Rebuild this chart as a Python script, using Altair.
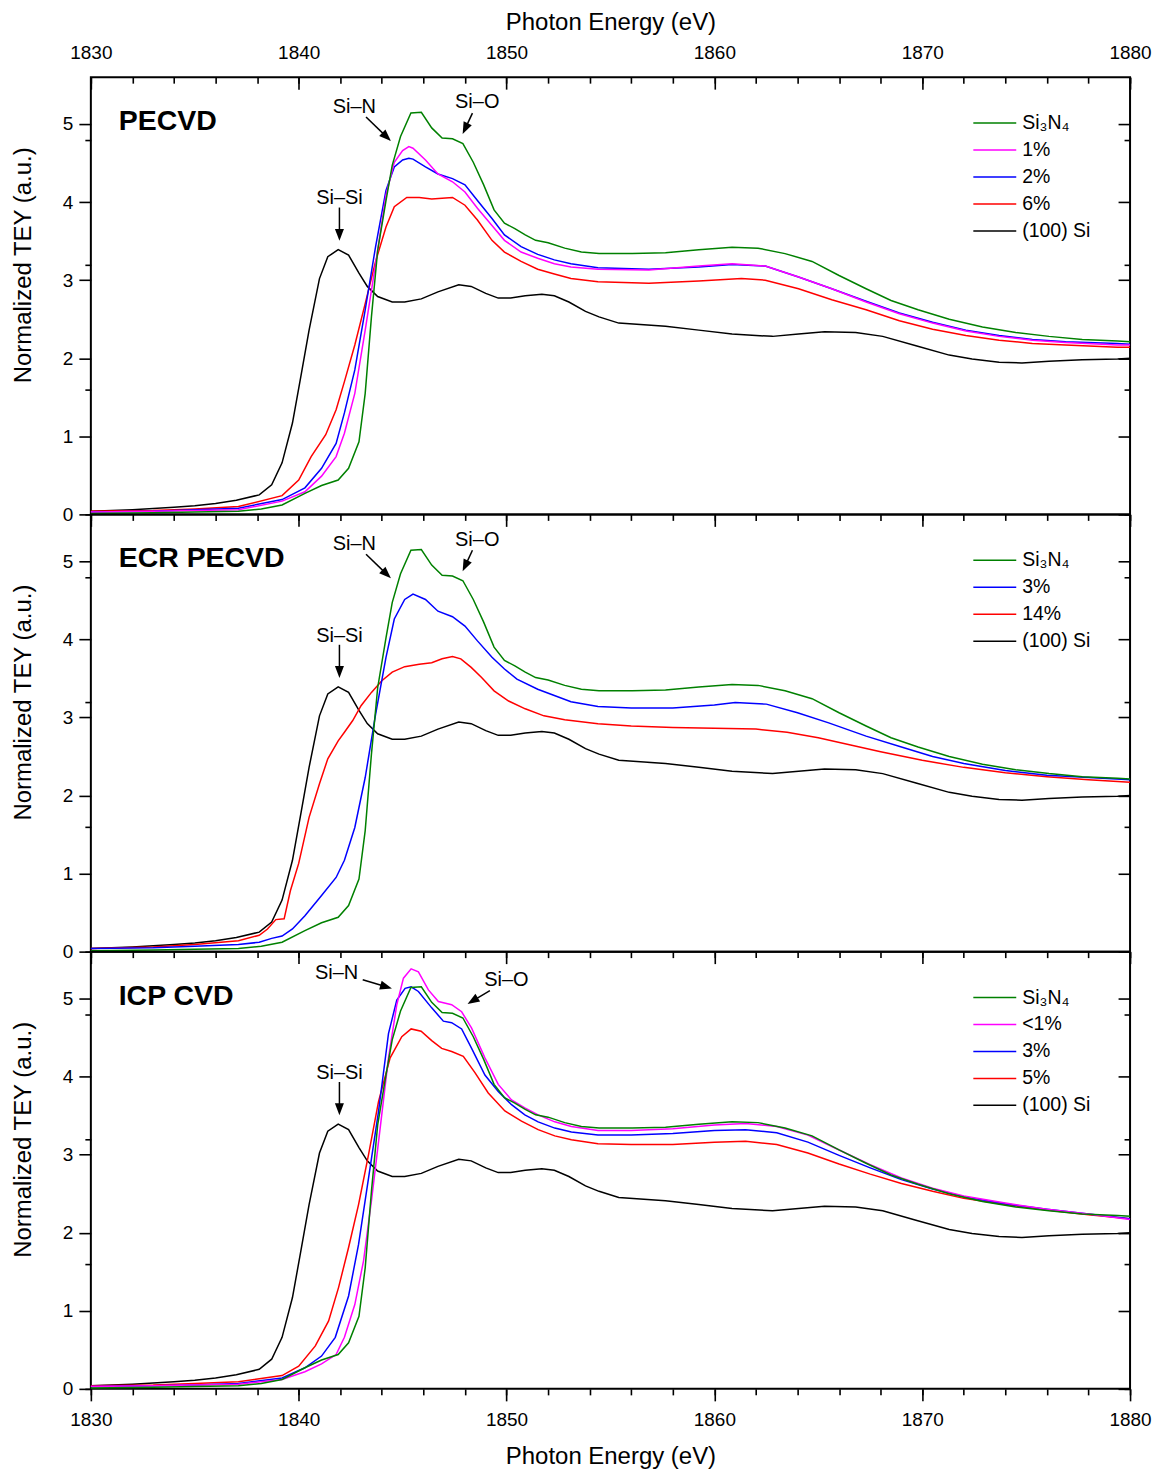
import altair as alt
import pandas as pd

FONT = "Liberation Sans, Arial, sans-serif"

# ---------------- data ----------------
# (100) Si reference, black (identical in all three panels)
SI_E = [1830, 1832, 1834, 1835, 1836, 1837, 1838.1, 1838.7, 1839.2, 1839.7, 1840.1, 1840.5, 1841.0, 1841.4, 1841.9,
        1842.4, 1842.9, 1843.3, 1843.8, 1844.5, 1845.1, 1845.9, 1846.7, 1847.7, 1848.3, 1849.0, 1849.6, 1850.2, 1850.9,
        1851.7, 1852.3, 1853.0, 1853.8, 1854.45, 1855.4, 1857.65, 1859.25, 1860.85, 1862.8, 1864.05, 1865.3, 1866.8,
        1868.1, 1869.7, 1871.3, 1872.4, 1873.7, 1874.8, 1876.1, 1877.7, 1879.4, 1880]
SI_V = [0.04, 0.06, 0.09, 0.11, 0.14, 0.18, 0.25, 0.38, 0.66, 1.17, 1.76, 2.36, 3.02, 3.30, 3.39,
        3.32, 3.09, 2.92, 2.79, 2.72, 2.72, 2.76, 2.85, 2.94, 2.92, 2.83, 2.77, 2.77, 2.80,
        2.82, 2.80, 2.72, 2.60, 2.53, 2.45, 2.41, 2.36, 2.31, 2.28, 2.31, 2.34, 2.33,
        2.28, 2.16, 2.04, 1.99, 1.95, 1.94, 1.96, 1.98, 1.99, 2.00]

# Si3N4 reference, green (identical in all three panels)
SIN_E = [1830, 1833, 1835, 1837.1, 1838.2, 1839.2, 1840.3, 1841.1, 1841.9, 1842.4, 1842.9, 1843.2, 1843.5, 1843.8,
         1844.2, 1844.5, 1844.9, 1845.4, 1845.9, 1846.4, 1846.9, 1847.4, 1847.9, 1848.4, 1848.9, 1849.4, 1849.9,
         1850.4, 1850.9, 1851.4, 1852.0, 1852.8, 1853.6, 1854.45, 1856.05, 1857.65, 1859.25, 1860.85, 1862.1, 1863.4,
         1864.7, 1866.0, 1867.3, 1868.5, 1869.8, 1871.3, 1872.9, 1874.5, 1876.1, 1877.7, 1879.4, 1880]
SIN_V = [0.01, 0.02, 0.03, 0.04, 0.07, 0.12, 0.27, 0.37, 0.44, 0.59, 0.93, 1.55, 2.53, 3.38,
         4.02, 4.47, 4.84, 5.14, 5.15, 4.95, 4.82, 4.81, 4.75, 4.51, 4.22, 3.90, 3.73,
         3.66, 3.58, 3.51, 3.48, 3.41, 3.36, 3.34, 3.34, 3.35, 3.39, 3.42, 3.41, 3.34,
         3.24, 3.06, 2.89, 2.74, 2.62, 2.50, 2.40, 2.33, 2.28, 2.24, 2.22, 2.21]

# PECVD films
PE_E = [1830, 1833, 1835, 1837.1, 1839.2, 1840.3, 1841.1, 1841.8, 1842.2, 1842.7, 1843.2, 1843.7, 1844.2, 1844.6,
        1845.0, 1845.3, 1845.5, 1846.1, 1846.7, 1847.4, 1848.0, 1848.6, 1849.3, 1849.9, 1850.7, 1851.5, 1852.3,
        1853.1, 1854.4, 1856.85, 1859.25, 1860.85, 1862.45, 1864.05, 1865.65, 1867.3, 1868.9, 1870.5, 1872.1,
        1873.7, 1875.3, 1876.9, 1879.4, 1880]
PE1_V = [0.03, 0.04, 0.05, 0.06, 0.17, 0.29, 0.49, 0.74, 1.04, 1.55, 2.36, 3.21, 4.09, 4.51,
         4.66, 4.71, 4.69, 4.54, 4.36, 4.26, 4.13, 3.92, 3.70, 3.51, 3.36, 3.28, 3.21,
         3.17, 3.14, 3.13, 3.18, 3.21, 3.18, 3.04, 2.89, 2.72, 2.57, 2.45, 2.35,
         2.28, 2.23, 2.20, 2.17, 2.17]
PE2_V = [0.03, 0.04, 0.06, 0.08, 0.19, 0.34, 0.59, 0.91, 1.30, 1.85, 2.62, 3.43, 4.15, 4.45,
         4.54, 4.56, 4.55, 4.45, 4.36, 4.30, 4.22, 4.02, 3.79, 3.58, 3.43, 3.33, 3.26,
         3.21, 3.16, 3.14, 3.17, 3.20, 3.18, 3.04, 2.89, 2.73, 2.58, 2.46, 2.36,
         2.29, 2.24, 2.21, 2.19, 2.18]
PE6_E = [1830, 1833, 1835, 1837.1, 1839.2, 1840.0, 1840.6, 1841.3, 1841.8, 1842.2, 1842.7, 1843.2, 1843.7, 1844.2,
         1844.6, 1845.2, 1845.8, 1846.4, 1847.4, 1848.0, 1848.6, 1849.3, 1849.9, 1850.7, 1851.5, 1852.3, 1853.1,
         1854.4, 1856.85, 1859.25, 1861.3, 1862.45, 1864.05, 1865.65, 1867.3, 1868.9, 1870.5, 1872.1, 1873.7,
         1875.3, 1876.9, 1879.4, 1880]
PE6_V = [0.04, 0.05, 0.07, 0.10, 0.24, 0.44, 0.74, 1.02, 1.34, 1.70, 2.17, 2.70, 3.24, 3.68,
         3.94, 4.06, 4.06, 4.04, 4.06, 3.96, 3.77, 3.51, 3.36, 3.24, 3.14, 3.08, 3.02,
         2.98, 2.96, 2.99, 3.02, 3.00, 2.89, 2.75, 2.62, 2.48, 2.37, 2.29, 2.23,
         2.19, 2.17, 2.14, 2.14]

# ECR PECVD films
ECR3_E = [1830, 1833, 1835, 1837.1, 1838.1, 1838.7, 1839.2, 1839.7, 1840.3, 1841.1, 1841.8, 1842.2, 1842.7, 1843.2,
          1843.7, 1844.2, 1844.6, 1845.1, 1845.5, 1846.1, 1846.7, 1847.4, 1848.0, 1848.6, 1849.3, 1849.9, 1850.5,
          1851.5, 1852.3, 1853.1, 1854.4, 1856, 1858, 1860, 1861, 1862.5, 1864, 1865.5, 1867.3, 1869, 1870.5, 1872,
          1874, 1876, 1878, 1880]
ECR3_V = [0.04, 0.05, 0.07, 0.09, 0.12, 0.17, 0.20, 0.29, 0.46, 0.72, 0.95, 1.17, 1.59, 2.23,
          3.04, 3.77, 4.26, 4.51, 4.58, 4.51, 4.36, 4.29, 4.17, 3.98, 3.77, 3.62, 3.49,
          3.36, 3.28, 3.20, 3.14, 3.12, 3.12, 3.16, 3.19, 3.17, 3.06, 2.93, 2.76, 2.62, 2.50, 2.41,
          2.32, 2.26, 2.23, 2.20]
ECR14_E = [1830, 1833, 1835, 1837.1, 1838.1, 1838.5, 1838.9, 1839.3, 1839.6, 1840.0, 1840.5, 1841.0, 1841.4,
           1841.9, 1842.2, 1842.6, 1843.0, 1843.5, 1844.0, 1844.5, 1845.1, 1845.8, 1846.4, 1846.9, 1847.4, 1847.8,
           1848.3, 1848.8, 1849.4, 1850.1, 1850.9, 1851.8, 1852.8, 1854.4, 1856, 1858, 1860, 1862, 1863.5, 1865,
           1866.5, 1868, 1870, 1872, 1874, 1876, 1878, 1880]
ECR14_V = [0.04, 0.06, 0.09, 0.14, 0.21, 0.29, 0.41, 0.42, 0.78, 1.13, 1.72, 2.15, 2.47,
           2.70, 2.81, 2.96, 3.15, 3.32, 3.47, 3.58, 3.65, 3.68, 3.70, 3.75, 3.78, 3.75,
           3.64, 3.51, 3.34, 3.21, 3.11, 3.02, 2.97, 2.92, 2.89, 2.87, 2.86, 2.85, 2.81, 2.74,
           2.65, 2.56, 2.45, 2.36, 2.29, 2.24, 2.20, 2.17]

# ICP CVD films
ICP1_E = [1830, 1833, 1835, 1837.1, 1839.2, 1840.3, 1841.1, 1841.8, 1842.2, 1842.7, 1843.12, 1843.52, 1843.92,
          1844.32, 1844.72, 1845.04, 1845.41, 1845.76, 1846.24, 1846.72, 1847.36, 1847.84, 1848.32, 1848.96, 1849.6,
          1850.24, 1850.88, 1851.52, 1852.32, 1853.12, 1854.4, 1856, 1858, 1860, 1861.5, 1863, 1864.5, 1866, 1867.5,
          1869, 1870.5, 1872, 1874, 1876, 1878, 1880]
ICP1_V = [0.03, 0.04, 0.05, 0.06, 0.12, 0.22, 0.32, 0.44, 0.66, 1.08, 1.64, 2.45, 3.34,
          4.24, 4.92, 5.26, 5.38, 5.34, 5.11, 4.96, 4.92, 4.83, 4.62, 4.24, 3.90,
          3.70, 3.60, 3.51, 3.42, 3.36, 3.31, 3.31, 3.33, 3.38, 3.40, 3.36, 3.25, 3.06, 2.87,
          2.70, 2.57, 2.47, 2.38, 2.30, 2.24, 2.17]
ICP3_E = [1830, 1833, 1835, 1837.1, 1839.2, 1840.3, 1841.1, 1841.76, 1842.4, 1842.88, 1843.36, 1843.84, 1844.32,
          1844.72, 1845.12, 1845.41, 1845.76, 1846.4, 1846.96, 1847.36, 1847.84, 1848.32, 1848.96, 1849.6, 1850.24,
          1850.88, 1851.52, 1852.32, 1853.12, 1854.4, 1856, 1858, 1860, 1861.5, 1863, 1864.5, 1866, 1867.5, 1869,
          1870.5, 1872, 1874, 1876, 1878, 1880]
ICP3_V = [0.03, 0.04, 0.05, 0.07, 0.14, 0.27, 0.42, 0.66, 1.19, 1.85, 2.70, 3.55, 4.55,
          4.98, 5.13, 5.15, 5.09, 4.88, 4.71, 4.69, 4.61, 4.36, 4.02, 3.81, 3.64,
          3.51, 3.42, 3.34, 3.29, 3.25, 3.25, 3.27, 3.31, 3.32, 3.28, 3.16, 2.99, 2.83, 2.68,
          2.56, 2.46, 2.37, 2.30, 2.24, 2.18]
ICP5_E = [1830, 1833, 1835, 1837.1, 1839.2, 1840.0, 1840.8, 1841.44, 1841.92, 1842.4, 1842.88, 1843.36, 1843.84,
          1844.4, 1844.96, 1845.41, 1845.89, 1846.4, 1846.88, 1847.36, 1847.92, 1848.48, 1849.12, 1849.92, 1850.72,
          1851.52, 1852.32, 1853.12, 1854.4, 1856, 1858, 1860, 1861.5, 1863, 1864.5, 1866, 1867.5, 1869, 1870.5,
          1872, 1874, 1876, 1878, 1880]
ICP5_V = [0.04, 0.05, 0.07, 0.09, 0.17, 0.29, 0.55, 0.87, 1.30, 1.81, 2.36, 3.00, 3.68,
          4.24, 4.51, 4.61, 4.58, 4.46, 4.36, 4.32, 4.26, 4.05, 3.79, 3.56, 3.43,
          3.32, 3.24, 3.19, 3.14, 3.13, 3.13, 3.16, 3.17, 3.13, 3.02, 2.88, 2.75, 2.63, 2.53,
          2.44, 2.36, 2.29, 2.23, 2.18]

# legends / colours
SIN_NAME = "Si\u2083N\u2084"
SI_NAME = "(100) Si"
GREEN, MAGENTA, BLUE, RED, BLACK = "#008000", "#FF00FF", "#0000FF", "#FF0000", "#000000"

# annotations (label, text anchor, arrow start, arrowhead centre, arrowhead angle)
ANN_LABELS = ["Si\u2013N", "Si\u2013O", "Si\u2013Si"]
ANN_TOP_E = [1842.68, 1848.59, 1841.96]
ANN_TOP_V = [5.14, 5.20, 3.97]
ARR_TOP_E0 = [1843.24, 1848.36, 1841.96]
ARR_TOP_V0 = [5.09, 5.14, 3.93]
ARR_TOP_E1 = [1844.23, 1848.01, 1841.96]
ARR_TOP_V1 = [4.835, 4.94, 3.58]
ARR_TOP_ANG = [134, 205, 180]

ANN_BOT_E = [1841.82, 1849.99, 1841.96]
ANN_BOT_V = [5.25, 5.16, 3.97]
ARR_BOT_E0 = [1843.08, 1849.2, 1841.96]
ARR_BOT_V0 = [5.24, 5.10, 3.93]
ARR_BOT_E1 = [1844.21, 1848.37, 1841.96]
ARR_BOT_V1 = [5.15, 4.97, 3.58]
ARR_BOT_ANG = [106, 238.5, 180]

PANEL_NAMES = ["PECVD", "ECR PECVD", "ICP CVD"]
PANEL_NAME_E = 1831.34
PANEL_NAME_V = 4.92

# axes ticks
X_DOMAIN = [1830, 1880]
Y_DOMAIN = [0, 5.6]
X_MAJOR = [1830, 1840, 1850, 1860, 1870, 1880]
X_MINOR = [1830, 1832, 1834, 1836, 1838, 1840, 1842, 1844, 1846, 1848, 1850, 1852, 1854, 1856, 1858,
           1860, 1862, 1864, 1866, 1868, 1870, 1872, 1874, 1876, 1878, 1880]
Y_MAJOR = [0, 1, 2, 3, 4, 5]
Y_MINOR = [0, 0.2, 0.4, 0.6, 0.8, 1, 1.2, 1.4, 1.6, 1.8, 2, 2.2, 2.4, 2.6, 2.8, 3, 3.2, 3.4, 3.6, 3.8,
           4, 4.2, 4.4, 4.6, 4.8, 5, 5.2, 5.4]

ARROW_HEAD = "M0,-1L0.75,1L-0.75,1Z"

W, H = 1041, 438
TICK_W = 1.6
LINE_W = 1.5

XS = alt.Scale(domain=X_DOMAIN, nice=False, zero=False)
YS = alt.Scale(domain=Y_DOMAIN, nice=False, zero=False)


def series_df(series):
    rows = []
    for name, es, vs in series:
        assert len(es) == len(vs), name
        for e, v in zip(es, vs):
            rows.append({"sample": name, "E": e, "I": v})
    return pd.DataFrame(rows)


def x_axis(orient, values, size, inward, labels=False, title=None):
    kw = dict(orient=orient, values=values, tickSize=size, tickWidth=TICK_W, tickColor="black",
              domain=False, grid=False, labels=labels, format="d", labelFlush=False, labelOverlap=False)
    if inward:
        kw["offset"] = -size
    if labels:
        kw.update(labelFont=FONT, labelFontSize=19, labelColor="black",
                  labelPadding=15 if orient == "top" else 10)
    if title:
        kw.update(title=title, titleFont=FONT, titleFontSize=24, titleFontWeight="normal",
                  titleColor="black", titlePadding=9 if orient == "top" else 15)
    else:
        kw["title"] = None
    return alt.Axis(**kw)


def y_axis(orient, values, size, inward, labels=False, title=None):
    kw = dict(orient=orient, values=values, tickSize=size, tickWidth=TICK_W, tickColor="black",
              domain=False, grid=False, labels=labels, format="d")
    if inward:
        kw["offset"] = -size
    if labels:
        kw.update(labelFont=FONT, labelFontSize=19, labelColor="black", labelPadding=6)
    if title:
        kw.update(title=title, titleFont=FONT, titleFontSize=24, titleFontWeight="normal",
                  titleColor="black", titlePadding=27, titleY=188)
    else:
        kw["title"] = None
    return alt.Axis(**kw)


def panel(idx, series, names, colors, ann, is_top, is_bottom):
    df = series_df(series)
    base = alt.Chart(df)

    legend = alt.Legend(title=None, orient="none", legendX=883, legendY=38, direction="vertical",
                        symbolType="stroke", symbolSize=1849, symbolStrokeWidth=LINE_W, clipHeight=16,
                        rowPadding=7, labelFont=FONT, labelFontSize=19.5, labelColor="black",
                        labelOffset=5, padding=0, symbolOffset=0)

    lines = base.mark_line(strokeWidth=LINE_W).encode(
        x=alt.X("E:Q", scale=XS,
                axis=x_axis("top", X_MAJOR, 12, True, labels=is_top,
                            title="Photon Energy (eV)" if is_top else None)),
        y=alt.Y("I:Q", scale=YS,
                axis=y_axis("left", Y_MAJOR, 12, False, labels=True, title="Normalized TEY (a.u.)")),
        color=alt.Color("sample:N", scale=alt.Scale(domain=names, range=colors), legend=legend),
    )
    minor = base.mark_point(opacity=0, size=1).encode(
        x=alt.X("E:Q", scale=XS, axis=x_axis("top", X_MINOR, 6, True)),
        y=alt.Y("I:Q", scale=YS, axis=y_axis("left", Y_MINOR, 6, False)),
    )
    right_major = base.mark_point(opacity=0, size=1).encode(
        x=alt.X("E:Q", scale=XS,
                axis=x_axis("bottom", X_MAJOR, 12, False, labels=True, title="Photon Energy (eV)")
                if is_bottom else None),
        y=alt.Y("I:Q", scale=YS, axis=y_axis("right", Y_MAJOR, 12, True)),
    )
    right_minor = base.mark_point(opacity=0, size=1).encode(
        x=alt.X("E:Q", scale=XS, axis=x_axis("bottom", X_MINOR, 6, False) if is_bottom else None),
        y=alt.Y("I:Q", scale=YS, axis=y_axis("right", Y_MINOR, 6, True)),
    )

    lab_e, lab_v, a_e0, a_v0, a_e1, a_v1, a_ang = ann
    ann_df = pd.DataFrame({"label": ANN_LABELS, "E": lab_e, "I": lab_v})
    arr_df = pd.DataFrame({"E": a_e0, "I": a_v0, "E2": a_e1, "I2": a_v1, "ang": a_ang})

    texts = alt.Chart(ann_df).mark_text(font=FONT, fontSize=20, color="black", align="center",
                                        baseline="alphabetic").encode(
        x=alt.X("E:Q", scale=XS, axis=None), y=alt.Y("I:Q", scale=YS, axis=None), text="label:N")
    shafts = alt.Chart(arr_df).mark_rule(color="black", strokeWidth=1.5).encode(
        x=alt.X("E:Q", scale=XS, axis=None), y=alt.Y("I:Q", scale=YS, axis=None),
        x2="E2:Q", y2="I2:Q")
    heads = alt.Chart(arr_df).mark_point(shape=ARROW_HEAD, filled=True, color="black", opacity=1,
                                         size=144, strokeWidth=0).encode(
        x=alt.X("E2:Q", scale=XS, axis=None), y=alt.Y("I2:Q", scale=YS, axis=None),
        angle=alt.Angle("ang:Q", scale=None))

    name_df = pd.DataFrame({"label": [PANEL_NAMES[idx]], "E": [PANEL_NAME_E], "I": [PANEL_NAME_V]})
    name = alt.Chart(name_df).mark_text(font=FONT, fontSize=28.5, fontWeight="bold", color="black",
                                        align="left", baseline="alphabetic").encode(
        x=alt.X("E:Q", scale=XS, axis=None), y=alt.Y("I:Q", scale=YS, axis=None), text="label:N")

    return alt.layer(lines, minor, right_major, right_minor, texts, shafts, heads, name).resolve_axis(
        x="independent", y="independent").properties(width=W, height=H)


ann_top = (ANN_TOP_E, ANN_TOP_V, ARR_TOP_E0, ARR_TOP_V0, ARR_TOP_E1, ARR_TOP_V1, ARR_TOP_ANG)
ann_bot = (ANN_BOT_E, ANN_BOT_V, ARR_BOT_E0, ARR_BOT_V0, ARR_BOT_E1, ARR_BOT_V1, ARR_BOT_ANG)

p1 = panel(0,
           [(SI_NAME, SI_E, SI_V), ("6%", PE6_E, PE6_V), ("2%", PE_E, PE2_V), ("1%", PE_E, PE1_V),
            (SIN_NAME, SIN_E, SIN_V)],
           [SIN_NAME, "1%", "2%", "6%", SI_NAME], [GREEN, MAGENTA, BLUE, RED, BLACK], ann_top, True, False)
p2 = panel(1,
           [(SI_NAME, SI_E, SI_V), ("14%", ECR14_E, ECR14_V), ("3%", ECR3_E, ECR3_V),
            (SIN_NAME, SIN_E, SIN_V)],
           [SIN_NAME, "3%", "14%", SI_NAME], [GREEN, BLUE, RED, BLACK], ann_top, False, False)
p3 = panel(2,
           [(SI_NAME, SI_E, SI_V), ("5%", ICP5_E, ICP5_V), ("3%", ICP3_E, ICP3_V), ("<1%", ICP1_E, ICP1_V),
            (SIN_NAME, SIN_E, SIN_V)],
           [SIN_NAME, "<1%", "3%", "5%", SI_NAME], [GREEN, MAGENTA, BLUE, RED, BLACK], ann_bot, False, True)

chart = alt.vconcat(p1, p2, p3, spacing=0, bounds="flush").resolve_scale(
    color="independent").properties(
    padding={"left": 2, "top": 0, "right": 5, "bottom": 0}, background="white"
).configure_view(stroke="black", strokeWidth=2)

chart.save("out.html", embed_options={"renderer": "svg", "actions": False})
